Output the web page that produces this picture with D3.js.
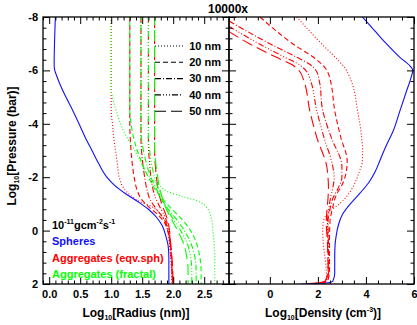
<!DOCTYPE html>
<html>
<head>
<meta charset="utf-8">
<script src="https://cdn.jsdelivr.net/npm/d3@7"></script>
<style>
  body { margin: 0; background: #fff; }
  text { font-family: "Liberation Sans", Arial, sans-serif; font-weight: bold; fill: #000; }
</style>
</head>
<body>
<svg id="chart" width="417" height="325"></svg>
<script>
// each curve: [log10 pressure (bar), value]
const sizes = ["10 nm", "20 nm", "30 nm", "40 nm", "50 nm"]
const dashes = ["1,2", "5,3", "6,2,1,2", "6,2,1,2,1,2,1,2", "11,5"]

// left panel — log10 radius (nm)
const radiusSpheres = [[-8,0.10],[-6.2,0.08],[-6,0.09],[-5.8,0.12],[-5.5,0.17],[-5,0.27],[-4.5,0.38],[-4,0.48],[-3.5,0.58],[-3,0.69],[-2.5,0.80],[-2,0.93],[-1.7,1.05],[-1.4,1.22],[-1.1,1.42],[-0.8,1.60],[-0.5,1.73],[-0.2,1.82],[0.2,1.88],[0.6,1.92],[1,1.93],[2,1.93]]

const radiusEqv10 = [[-8,1.0],[-4.5,1.0],[-4,1.02],[-3.5,1.04],[-3,1.07],[-2.5,1.10],[-2,1.13],[-1.6,1.20],[-1.3,1.32],[-1.1,1.45],[-0.9,1.65],[-0.6,1.80],[-0.3,1.88],[0,1.91],[0.5,1.94],[1,1.96],[2,1.98]]
const radiusEqv20 = [[-8,1.30],[-4,1.30],[-3,1.32],[-2.5,1.34],[-2,1.37],[-1.5,1.42],[-1.2,1.48],[-0.9,1.60],[-0.6,1.75],[-0.3,1.86],[0,1.91],[0.5,1.95],[1,1.97],[2,1.99]]
const radiusEqv30 = [[-8,1.48],[-3.5,1.48],[-3,1.49],[-2.5,1.51],[-2,1.54],[-1.5,1.58],[-1.2,1.62],[-0.9,1.70],[-0.6,1.80],[-0.3,1.88],[0,1.92],[0.5,1.95],[1,1.97],[2,1.99]]
const radiusEqv40 = [[-8,1.60],[-3.2,1.60],[-2.5,1.62],[-2,1.64],[-1.5,1.68],[-1.2,1.72],[-0.9,1.78],[-0.6,1.85],[-0.3,1.90],[0,1.93],[0.5,1.96],[1,1.97],[2,1.99]]
const radiusEqv50 = [[-8,1.70],[-3,1.70],[-2.5,1.71],[-2,1.73],[-1.5,1.76],[-1.2,1.79],[-0.9,1.83],[-0.6,1.88],[-0.3,1.92],[0,1.94],[0.5,1.96],[1,1.98],[2,2.0]]

const radiusFrac10 = [[-8,1.0],[-5.3,1.0],[-5,1.02],[-4.5,1.08],[-4,1.15],[-3.5,1.25],[-3,1.38],[-2.5,1.49],[-2,1.62],[-1.7,1.78],[-1.45,1.92],[-1.3,2.12],[-1.1,2.40],[-0.8,2.56],[-0.4,2.62],[0,2.64],[0.5,2.66],[1,2.67],[2,2.67]]
const radiusFrac20 = [[-8,1.30],[-4.5,1.30],[-4,1.32],[-3.5,1.36],[-3,1.42],[-2.5,1.50],[-2,1.60],[-1.5,1.72],[-1.2,1.82],[-0.8,1.98],[-0.4,2.15],[0,2.28],[0.5,2.38],[1,2.43],[1.5,2.45],[2,2.45]]
const radiusFrac30 = [[-8,1.48],[-3.8,1.48],[-3,1.52],[-2.5,1.57],[-2,1.64],[-1.5,1.74],[-1.2,1.80],[-0.8,1.92],[-0.4,2.06],[0,2.18],[0.5,2.29],[1,2.35],[1.5,2.37],[2,2.37]]
const radiusFrac40 = [[-8,1.60],[-3.5,1.60],[-3,1.62],[-2.5,1.65],[-2,1.70],[-1.5,1.77],[-1.2,1.82],[-0.8,1.90],[-0.4,2.01],[0,2.12],[0.5,2.23],[1,2.28],[1.5,2.30],[2,2.30]]
const radiusFrac50 = [[-8,1.70],[-3.2,1.70],[-2.5,1.72],[-2,1.75],[-1.5,1.79],[-1.2,1.83],[-0.8,1.89],[-0.4,1.98],[0,2.07],[0.5,2.17],[1,2.22],[1.5,2.24],[2,2.24]]

// right panel — log10 density (cm^-3)
const densSpheres = [[-8,3.85],[-7.5,4.35],[-7,4.85],[-6.5,5.4],[-6.15,5.85],[-6,5.95],[-5.8,5.9],[-5.2,5.68],[-4.5,5.42],[-3.7,5.12],[-3.2,4.85],[-2.6,4.57],[-2.2,4.38],[-1.8,4.12],[-1.4,3.75],[-1.0,3.35],[-0.6,3.02],[-0.2,2.85],[0.2,2.76],[0.6,2.71],[1,2.70],[1.6,2.70],[1.9,2.62],[1.97,2.3],[2,1.3]]
const densEqv10 = [[-8,1.12],[-7,2.15],[-6.4,2.82],[-6.1,3.12],[-5.8,3.3],[-5.5,3.43],[-4.5,3.65],[-3.5,3.82],[-3,3.86],[-2.6,3.85],[-2.2,3.72],[-1.8,3.55],[-1.4,3.3],[-1,2.9],[-0.7,2.45],[-0.3,2.22],[0,2.2],[0.6,2.24],[1.3,2.33],[1.8,2.36],[1.95,2.2],[2,1.6]]
const densEqv20 = [[-8,-0.41],[-7,0.95],[-6.4,1.95],[-6.1,2.3],[-5.8,2.47],[-5.5,2.55],[-4.5,2.70],[-3.5,2.95],[-2.6,3.22],[-2.2,3.18],[-1.8,3.05],[-1.3,2.75],[-0.8,2.6],[-0.3,2.5],[0.5,2.48],[1.5,2.48],[1.9,2.4],[2,1.8]]
const densEqv30 = [[-7.85,-1.7],[-7,0.0],[-6.5,1.1],[-6.2,1.7],[-5.95,1.95],[-5.6,2.06],[-4.5,2.2],[-3.5,2.55],[-2.4,3.0],[-2,3.0],[-1.6,2.85],[-1.2,2.62],[-0.8,2.5],[-0.3,2.42],[0.5,2.44],[1.5,2.45],[1.9,2.35],[2,1.7]]
const densEqv40 = [[-7.65,-1.7],[-7,-0.45],[-6.5,0.6],[-6.2,1.25],[-5.95,1.54],[-5.6,1.7],[-4.5,1.95],[-3.5,2.25],[-2.4,2.62],[-2,2.68],[-1.6,2.62],[-1.2,2.52],[-0.8,2.45],[-0.3,2.4],[0.5,2.42],[1.5,2.43],[1.9,2.3],[2,1.6]]
const densEqv50 = [[-7.45,-1.7],[-7,-0.85],[-6.5,0.25],[-6.2,0.95],[-5.95,1.25],[-5.6,1.42],[-4.5,1.66],[-3.5,1.95],[-2.4,2.37],[-2,2.42],[-1.6,2.44],[-1.2,2.42],[-0.8,2.38],[-0.3,2.35],[0.5,2.4],[1.5,2.42],[1.9,2.3],[2,1.4]]

const radiusEqv  = [radiusEqv10, radiusEqv20, radiusEqv30, radiusEqv40, radiusEqv50]
const radiusFrac = [radiusFrac10, radiusFrac20, radiusFrac30, radiusFrac40, radiusFrac50]
const densEqv    = [densEqv10, densEqv20, densEqv30, densEqv40, densEqv50]

const BLUE = '#1010ff', RED = '#ff0000', GREEN = '#00ff00'

const svg = d3.select('#chart')

const y  = d3.scaleLinear().domain([-8, 2]).range([17, 284])
const xR = d3.scaleLinear().domain([-0.1, 2.9]).range([43, 229])
const xD = d3.scaleLinear().domain([-1.7, 6]).range([229, 414])

const MAJ = 7, MIN = 3.5
const yMajor = [-8, -6, -4, -2, 0, 2]
const yMinor = d3.range(-8, 2.001, 0.4).filter(v => Math.abs(v / 2 - Math.round(v / 2)) > 1e-6)
const rMajor = [0, 0.5, 1, 1.5, 2, 2.5]
const rMinor = d3.range(-0.1, 2.901, 0.1).filter(v => Math.abs(v * 2 - Math.round(v * 2)) > 1e-6)
const dMajor = [0, 2, 4, 6]
const dMinor = d3.range(-1.5, 6.001, 0.5).filter(v => Math.abs(v / 2 - Math.round(v / 2)) > 1e-6)

// clip paths
const defs = svg.append('defs')
defs.append('clipPath').attr('id', 'clipL').append('rect')
  .attr('x', xR.range()[0]).attr('y', y.range()[0])
  .attr('width', xR.range()[1] - xR.range()[0]).attr('height', y.range()[1] - y.range()[0])
defs.append('clipPath').attr('id', 'clipR').append('rect')
  .attr('x', xD.range()[0]).attr('y', y.range()[0])
  .attr('width', xD.range()[1] - xD.range()[0]).attr('height', y.range()[1] - y.range()[0])

function drawAxis(axis, tx, ty, labels) {
  const g = svg.append('g').attr('transform', `translate(${tx},${ty})`).call(axis)
  g.select('.domain').remove()
  g.selectAll('line').attr('stroke', '#000').attr('stroke-width', 1)
  if (!labels) g.selectAll('text').remove()
  else g.selectAll('text').attr('font-size', 11).attr('fill', '#000')
  return g
}

function panelAxes(x, xMajor, xMinor, xFmt, yLabels) {
  const [x0, x1] = x.range()
  const [y0, y1] = y.range()
  // bottom
  drawAxis(d3.axisBottom(x).tickValues(xMajor).tickSize(-MAJ).tickPadding(6).tickFormat(xFmt), 0, y1, true)
  drawAxis(d3.axisBottom(x).tickValues(xMinor).tickSize(-MIN).tickFormat(''), 0, y1, false)
  // top
  drawAxis(d3.axisBottom(x).tickValues(xMajor).tickSize(MAJ), 0, y0, false)
  drawAxis(d3.axisBottom(x).tickValues(xMinor).tickSize(MIN), 0, y0, false)
  // left (pointing right into the panel)
  drawAxis(d3.axisRight(y).tickValues(yMajor).tickSize(MAJ), x0, 0, false)
  drawAxis(d3.axisRight(y).tickValues(yMinor).tickSize(MIN), x0, 0, false)
  if (yLabels) {
    drawAxis(d3.axisLeft(y).tickValues(yMajor).tickSize(0).tickPadding(5).tickFormat(d => String(d)), x0, 0, true)
  }
  // right (pointing left)
  drawAxis(d3.axisLeft(y).tickValues(yMajor).tickSize(MAJ), x1, 0, false)
  drawAxis(d3.axisLeft(y).tickValues(yMinor).tickSize(MIN), x1, 0, false)
  svg.append('rect')
    .attr('x', x0).attr('y', y0).attr('width', x1 - x0).attr('height', y1 - y0)
    .attr('fill', 'none').attr('stroke', '#000').attr('stroke-width', 1.3)
}

const lineR = d3.line().x(d => xR(d[1])).y(d => y(d[0])).curve(d3.curveMonotoneY)
const lineD = d3.line().x(d => xD(d[1])).y(d => y(d[0])).curve(d3.curveMonotoneY)

// left panel curves
const gL = svg.append('g').attr('clip-path', 'url(#clipL)')
radiusEqv.forEach((s, i) => {
  gL.append('path').attr('d', lineR(s)).attr('fill', 'none')
    .attr('stroke', RED).attr('stroke-width', 1.1).attr('stroke-dasharray', dashes[i])
})
radiusFrac.forEach((s, i) => {
  gL.append('path').attr('d', lineR(s)).attr('fill', 'none')
    .attr('stroke', GREEN).attr('stroke-width', 1.1).attr('stroke-dasharray', dashes[i])
    .attr('stroke-dashoffset', 3)
})
gL.append('path').attr('d', lineR(radiusSpheres)).attr('fill', 'none')
  .attr('stroke', BLUE).attr('stroke-width', 1.1)

// right panel curves
const gR = svg.append('g').attr('clip-path', 'url(#clipR)')
densEqv.forEach((s, i) => {
  gR.append('path').attr('d', lineD(s)).attr('fill', 'none')
    .attr('stroke', RED).attr('stroke-width', 1.1).attr('stroke-dasharray', dashes[i])
})
gR.append('path').attr('d', lineD(densSpheres)).attr('fill', 'none')
  .attr('stroke', BLUE).attr('stroke-width', 1.1)

panelAxes(xR, rMajor, rMinor, d3.format('.1f'), true)
panelAxes(xD, dMajor, dMinor, d => String(d), false)

// legend — monomer sizes
const leg = svg.append('g')
sizes.forEach((s, i) => {
  const ly = 46 + i * 16.3
  leg.append('line').attr('x1', 155).attr('x2', 183).attr('y1', ly).attr('y2', ly)
    .attr('stroke', '#000').attr('stroke-width', 1.1).attr('stroke-dasharray', dashes[i])
  leg.append('text').attr('x', 221).attr('y', ly).attr('dy', '0.35em')
    .attr('text-anchor', 'end').attr('font-size', 11).text(s)
})

// annotation
const ann = svg.append('g').attr('font-size', 11)
const flux = ann.append('text').attr('x', 52).attr('y', 229)
flux.append('tspan').text('10')
flux.append('tspan').attr('font-size', 7).attr('dy', -5).text('-11')
flux.append('tspan').attr('dy', 5).text('gcm')
flux.append('tspan').attr('font-size', 7).attr('dy', -5).text('-2')
flux.append('tspan').attr('dy', 5).text('s')
flux.append('tspan').attr('font-size', 7).attr('dy', -5).text('-1')
ann.append('text').attr('x', 52).attr('y', 245).style('fill', BLUE).text('Spheres')
ann.append('text').attr('x', 52).attr('y', 262).style('fill', RED).text('Aggregates (eqv.sph)')
ann.append('text').attr('x', 52).attr('y', 278).style('fill', GREEN).text('Aggregates (fractal)')

// title
svg.append('text').attr('x', 228).attr('y', 13).attr('text-anchor', 'middle')
  .attr('font-size', 12).text('10000x')

// axis titles
function logLabel(sel, pre, post, sup) {
  sel.append('tspan').text('Log')
  sel.append('tspan').attr('font-size', 7).attr('dy', 3).text('10')
  sel.append('tspan').attr('dy', -3).text(pre)
  if (sup) {
    sel.append('tspan').attr('font-size', 7).attr('dy', -5).text(sup)
    sel.append('tspan').attr('dy', 5).text(post)
  }
}
logLabel(svg.append('text').attr('x', 136).attr('y', 317).attr('text-anchor', 'middle').attr('font-size', 12),
  '[Radius (nm)]')
logLabel(svg.append('text').attr('x', 323).attr('y', 317).attr('text-anchor', 'middle').attr('font-size', 12),
  '[Density (cm', ')]', '-3')
logLabel(svg.append('text').attr('transform', 'translate(16,146) rotate(-90)').attr('text-anchor', 'middle').attr('font-size', 12),
  '[Pressure (bar)]')
</script>
</body>
</html>
